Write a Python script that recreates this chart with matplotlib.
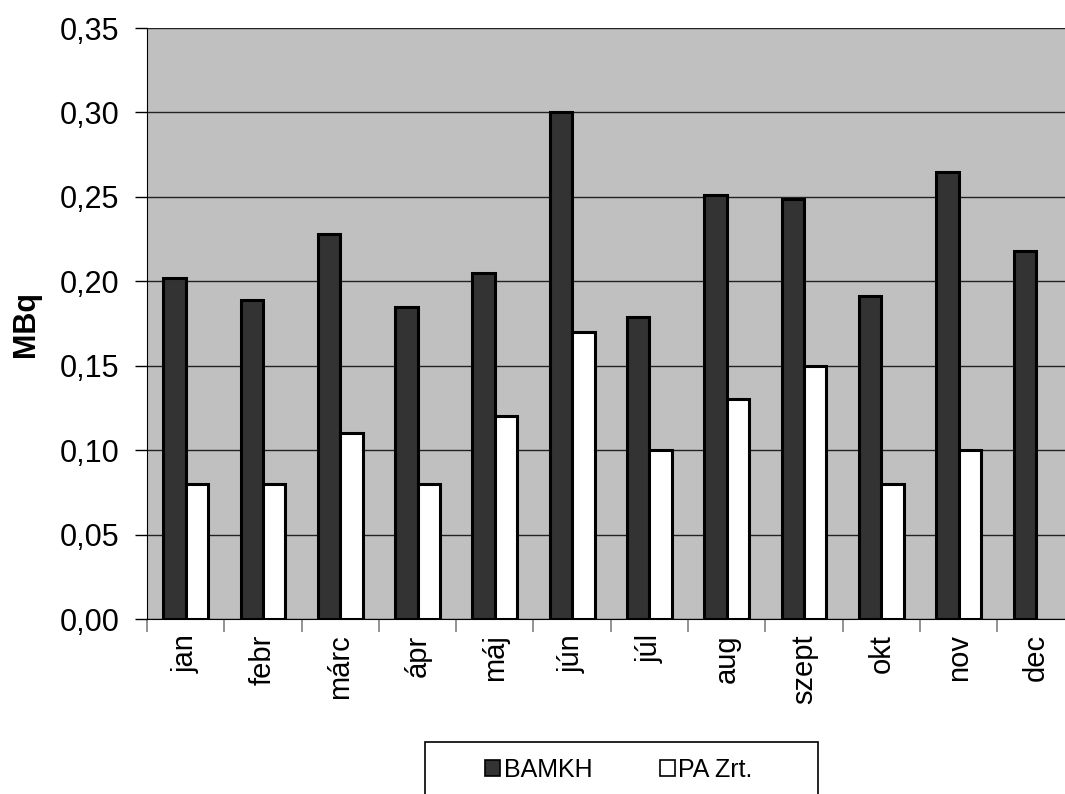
import matplotlib
matplotlib.use("Agg")
from matplotlib import pyplot as plt
from matplotlib.ticker import FuncFormatter
from matplotlib.patches import Rectangle
import numpy as np

plt.rcParams['font.family'] = ['Liberation Sans', 'DejaVu Sans']

months = ["jan", "febr", "márc", "ápr", "máj", "jún",
          "júl", "aug", "szept", "okt", "nov", "dec"]
bamkh = [0.202, 0.189, 0.228, 0.185, 0.205, 0.300,
         0.179, 0.251, 0.249, 0.191, 0.265, 0.218]
pa_zrt = [0.08, 0.08, 0.11, 0.08, 0.12, 0.17,
          0.10, 0.13, 0.15, 0.08, 0.10, 0.0]

fig = plt.figure(figsize=(10.65, 7.94), dpi=100)
ax = fig.add_axes([0.138, 0.2204, 0.871, 0.7443])
ax.set_facecolor("#c0c0c0")

x = np.arange(len(months))
w = 0.29
ax.bar(x - w / 2, bamkh, w, color="#333333", edgecolor="black",
       linewidth=2.2, label="BAMKH", zorder=3)
pa_vals = [v if v > 0 else np.nan for v in pa_zrt]
ax.bar(x + w / 2, pa_vals, w, color="white", edgecolor="black",
       linewidth=2.2, label="PA Zrt.", zorder=3)

ax.set_xlim(-0.5, len(months) - 0.5)
ax.set_ylim(0, 0.35)
ax.set_yticks(np.arange(0, 0.351, 0.05))
ax.yaxis.set_major_formatter(FuncFormatter(lambda v, p: f"{v:.2f}".replace(".", ",")))
ax.grid(axis="y", color="#222222", lw=1, zorder=1)

ax.set_xticks(x)
ax.set_xticklabels(months, rotation=90, fontsize=21)
ax.set_xticks(np.arange(-0.5, len(months), 1), minor=True)
ax.tick_params(axis="x", which="major", length=0, pad=11)
ax.tick_params(axis="x", which="minor", length=9, color="#808080", width=1.2)
ax.tick_params(axis="y", labelsize=22, length=9, width=1, pad=11)

for s in ["top", "right"]:
    ax.spines[s].set_visible(False)
ax.spines["left"].set_color("black")
ax.spines["bottom"].set_color("black")

ax.set_ylabel("MBq", fontsize=22, fontweight="bold", labelpad=13)

# legend box (runs off the bottom of the figure, as in the original)
fig.patches.append(Rectangle((425 / 1065, -0.02), (818 - 425) / 1065, 0.02 + 52 / 794,
                             transform=fig.transFigure, facecolor="white",
                             edgecolor="black", lw=1.2))
leg = fig.legend(loc="center", bbox_to_anchor=(0.581, 0.030),
                 ncol=2, fontsize=18, frameon=False,
                 handlelength=0.6, handleheight=0.6, handletextpad=0.15,
                 columnspacing=2.7)
for h in leg.legend_handles:
    h.set_linewidth(1.2)

fig.savefig("out.png", dpi=100)
